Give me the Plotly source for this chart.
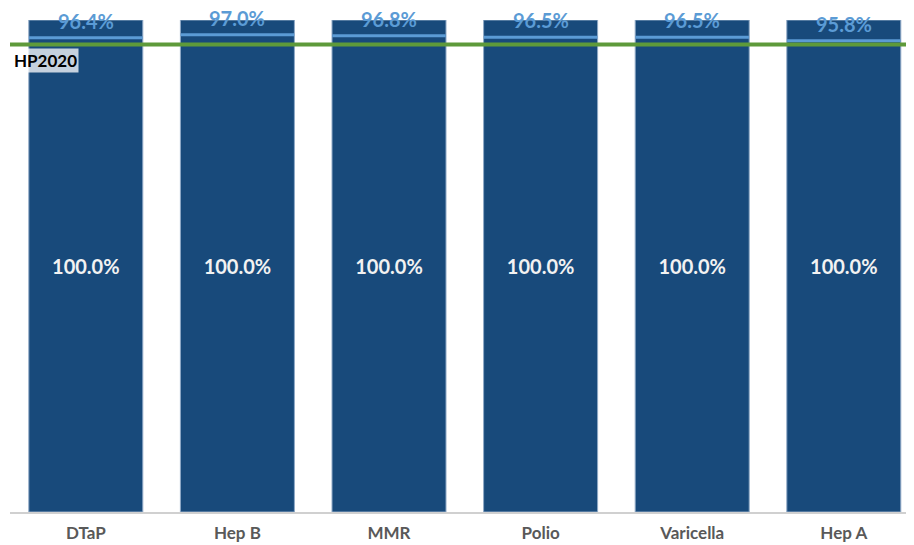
import plotly.graph_objects as go

# ── chart data ─────────────────────────────────────────────────────────────
vaccines = ["DTaP", "Hep B", "MMR", "Polio", "Varicella", "Hep A"]
bar_values = [100.0, 100.0, 100.0, 100.0, 100.0, 100.0]
coverage = [96.4, 97.0, 96.8, 96.5, 96.5, 95.8]
hp2020_target = 95

DARK_BLUE = "#184a7b"
LIGHT_BLUE = "#5b9bd5"
GREEN = "#5e9a3a"
FONT = "Lato"

fig = go.Figure()

# full-height bars with the 100.0% label in the middle
fig.add_trace(go.Bar(
    x=vaccines,
    y=bar_values,
    marker=dict(color=DARK_BLUE, line=dict(color="#8fa9c6", width=1)),
    text=[f"{v:.1f}%" for v in bar_values],
    textposition="inside",
    insidetextanchor="middle",
    textfont=dict(family=FONT, size=20, color="#f2f2f2", weight="bold"),
    showlegend=False,
    hoverinfo="skip",
))

# coverage rate drawn as a horizontal dash across each bar
# (line-ew marker length is 1.4 x size, so 81 ≈ bar width)
fig.add_trace(go.Scatter(
    x=vaccines,
    y=coverage,
    mode="markers",
    marker=dict(symbol="line-ew", size=81,
                line=dict(color=LIGHT_BLUE, width=3)),
    showlegend=False,
    hoverinfo="skip",
))

# coverage labels sit just above the dash
for name, val in zip(vaccines, coverage):
    fig.add_annotation(
        x=name, y=val, text=f"{val:.1f}%",
        showarrow=False, yanchor="bottom", yshift=4, borderpad=0,
        font=dict(family=FONT, size=20, color=LIGHT_BLUE, weight="bold"),
    )

# HP2020 target line
fig.add_shape(
    type="line", xref="paper", x0=0, x1=1,
    yref="y", y0=hp2020_target, y1=hp2020_target,
    line=dict(color=GREEN, width=4), layer="above",
)
fig.add_annotation(
    xref="paper", x=0, xanchor="left", xshift=2,
    y=hp2020_target, yanchor="top", yshift=-3,
    text="HP2020", showarrow=False,
    bgcolor="rgba(255,255,255,0.75)", borderpad=1,
    font=dict(family=FONT, size=17, color="#000000", weight="bold"),
)

# page body adds an 8px offset, so margins are shifted to compensate
fig.update_layout(
    width=914, height=545,
    margin=dict(l=2, r=8, t=12, b=41),
    paper_bgcolor="white", plot_bgcolor="white",
    bargap=0.248,
    font=dict(family=FONT),
    xaxis=dict(
        type="category", range=[-0.5, 5.463],
        showline=True, linecolor="#d0d0d0", linewidth=2,
        showgrid=False, ticks="", ticklabelstandoff=5,
        tickfont=dict(family=FONT, size=17, color="#595959", weight="bold"),
    ),
    yaxis=dict(range=[0, 100], visible=False, showgrid=False),
)

fig.write_html("out.html")
